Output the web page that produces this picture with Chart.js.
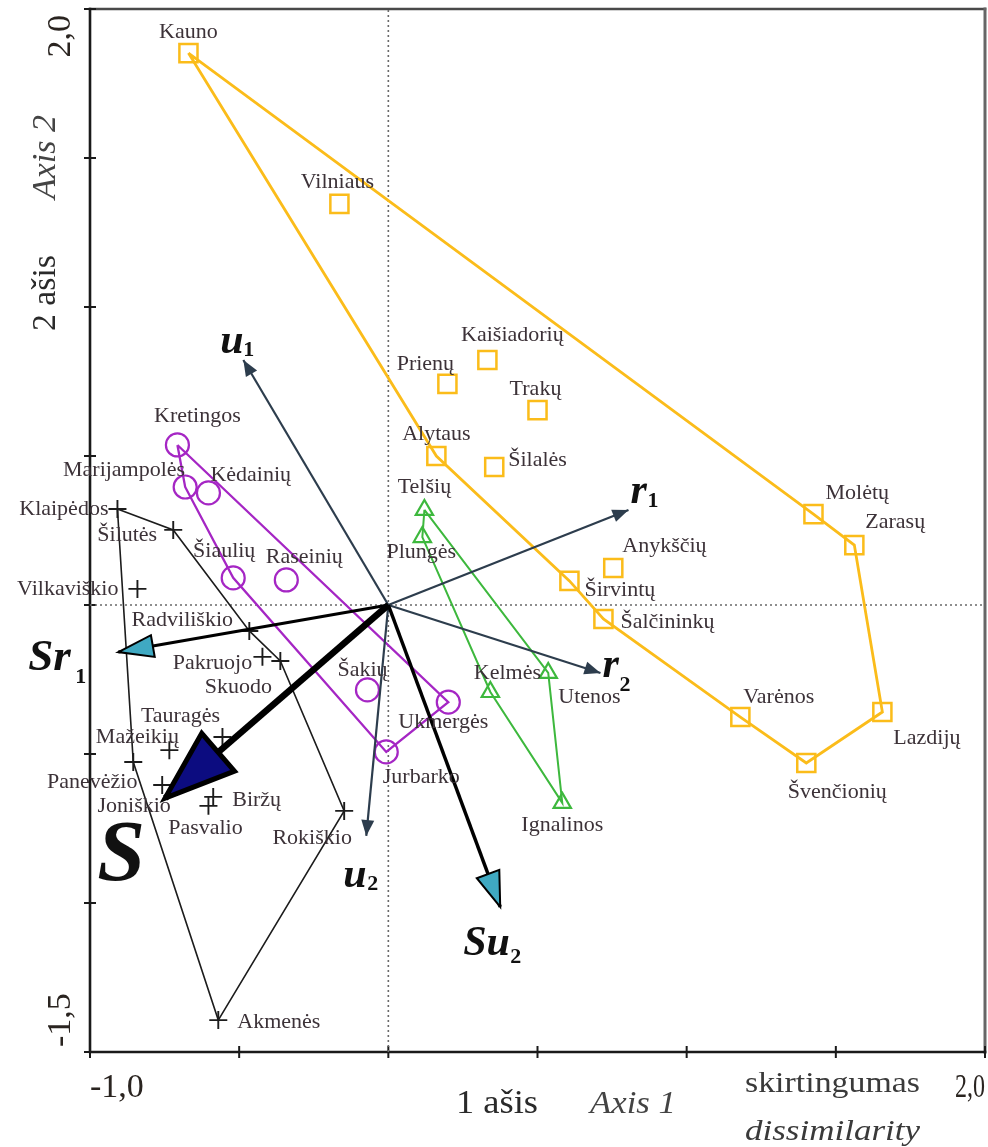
<!DOCTYPE html>
<html>
<head>
<meta charset="utf-8">
<script src="https://cdn.jsdelivr.net/npm/chart.js@4.4.1/dist/chart.umd.min.js"></script>
<style>
  html, body { margin: 0; padding: 0; background: #fff; }
  canvas { display: block; }
</style>
</head>
<body>
<canvas id="chart" width="988" height="1147"></canvas>
<script>
// Data (ordination scores)
const orangeNames = ['Kauno','Vilniaus','Kaišiadorių','Prienų','Trakų','Alytaus','Šilalės','Molėtų','Zarasų','Anykščių','Širvintų','Šalčininkų','Varėnos','Lazdijų','Švenčionių'];
const orangeX = [-0.670,-0.164, 0.332, 0.198, 0.500, 0.161, 0.355, 1.425, 1.562, 0.754, 0.607, 0.721, 1.180, 1.656, 1.401];
const orangeY = [ 1.852, 1.346, 0.822, 0.742, 0.654, 0.500, 0.463, 0.305, 0.201, 0.124, 0.081,-0.047,-0.376,-0.359,-0.530];
const orangeHull = ['Kauno','Molėtų','Zarasų','Lazdijų','Švenčionių','Varėnos','Šalčininkų','Širvintų','Alytaus','Kauno'];

const greenNames = ['Telšių','Plungės','Kelmės','Utenos','Ignalinos'];
const greenX = [0.121, 0.114, 0.342, 0.536, 0.583];
const greenY = [0.319, 0.228,-0.292,-0.228,-0.664];
const greenHull = ['Telšių','Utenos','Ignalinos','Kelmės','Plungės','Telšių'];

const purpleNames = ['Kretingos','Marijampolės','Kėdainių','Šiaulių','Raseinių','Šakių','Ukmergės','Jurbarko'];
const purpleX = [-0.707,-0.681,-0.603,-0.520,-0.342,-0.070, 0.201,-0.007];
const purpleY = [ 0.537, 0.396, 0.376, 0.091, 0.084,-0.285,-0.326,-0.493];
const purpleHull = ['Kretingos','Ukmergės','Jurbarko','Šiaulių','Marijampolės','Kretingos'];

const blackNames = ['Klaipėdos','Šilutės','Vilkaviškio','Radviliškio','Pakruojo','Skuodo','Tauragės','Mažeikių','Panevėžio','Joniškio','Biržų','Pasvalio','Rokiškio','Akmenės'];
const blackX = [-0.908,-0.721,-0.841,-0.466,-0.422,-0.362,-0.556,-0.734,-0.855,-0.758,-0.587,-0.603,-0.148,-0.570];
const blackY = [ 0.322, 0.252, 0.054,-0.087,-0.174,-0.188,-0.443,-0.487,-0.527,-0.604,-0.644,-0.674,-0.691,-1.393];
const blackHull = ['Klaipėdos','Šilutės','Radviliškio','Skuodo','Rokiškio','Akmenės','Panevėžio','Klaipėdos'];

// vectors from the origin
const arrowNames = ['u1','r1','r2','u2','Sr1','S','Su2'];
const arrowX = [-0.486, 0.805, 0.711,-0.074,-0.905,-0.748, 0.375];
const arrowY = [ 0.822, 0.319,-0.228,-0.775,-0.158,-0.648,-1.013];
const arrowMain = ['u','r','r','u','Sr','S','Su'];
const arrowSub  = ['1','1','2','2','1','','2'];

const xTicks = [-1, -0.5, 0, 0.5, 1, 1.5, 2];
const yTicks = [-1.5, -1, -0.5, 0, 0.5, 1, 1.5, 2];
const xTickText = ['-1,0', '2,0'];
const yTickText = ['-1,5', '2,0'];

// Styles
const SERIF = '"Liberation Serif", "Times New Roman", serif';
const LABEL_COLOR = '#3c3238';
const SLATE = '#2d3d4d';

const groupStyles = [
  { color: '#FBBC1A', style: 'rect',     radius: 12.8, width: 2.5, hullWidth: 2.8 },
  { color: '#3DB83D', style: 'triangle', radius: 10,   width: 2.2, hullWidth: 2 },
  { color: '#A526C4', style: 'circle',   radius: 11.5, width: 2.2, hullWidth: 2.3 },
  { color: '#1c1c1c', style: 'cross',    radius: 9,    width: 1.9, hullWidth: 1.6 }
];

const arrowStyles = [
  { color: SLATE, width: 2.2, len: 16, half: 6.5, fill: SLATE,   stroke: null, sw: 0 },
  { color: SLATE, width: 2.2, len: 16, half: 6.5, fill: SLATE,   stroke: null, sw: 0 },
  { color: SLATE, width: 2.2, len: 16, half: 6.5, fill: SLATE,   stroke: null, sw: 0 },
  { color: SLATE, width: 2.2, len: 16, half: 6.5, fill: SLATE,   stroke: null, sw: 0 },
  { color: '#000', width: 3,  len: 35, half: 11, fill: '#3FA9C2', stroke: '#000', sw: 2 },
  { color: '#000', width: 6.5,len: 70, half: 25, fill: '#0C0C80', stroke: '#000', sw: 5 },
  { color: '#000', width: 3.5,len: 35, half: 12, fill: '#3FA9C2', stroke: '#000', sw: 2 }
];

// label placement: [dx, dy, align] in pixels from the marker
const labelOffsets = {
  'Kauno': [0,-21,'center'], 'Vilniaus': [-2,-22,'center'], 'Kaišiadorių': [25,-25,'center'],
  'Prienų': [-22,-20,'center'], 'Trakų': [-2,-21,'center'], 'Alytaus': [0,-22,'center'],
  'Šilalės': [14,-7,'left'], 'Molėtų': [12,-21,'left'], 'Zarasų': [11,-23,'left'],
  'Anykščių': [9,-22,'left'], 'Širvintų': [15,9,'left'], 'Šalčininkų': [17,3,'left'],
  'Varėnos': [3,-20,'left'], 'Lazdijų': [11,26,'left'], 'Švenčionių': [31,29,'center'],
  'Telšių': [0,-23,'center'], 'Plungės': [-1,15,'center'], 'Kelmės': [17,-19,'center'],
  'Utenos': [10,24,'left'], 'Ignalinos': [0,22,'center'],
  'Kretingos': [20,-29,'center'], 'Marijampolės': [0,-17,'right'], 'Kėdainių': [2,-18,'left'],
  'Šiaulių': [-9,-27,'center'], 'Raseinių': [18,-23,'center'], 'Šakių': [-5,-20,'center'],
  'Ukmergės': [-5,20,'center'], 'Jurbarko': [35,25,'center'],
  'Klaipėdos': [-9,0,'right'], 'Šilutės': [-46,5,'center'], 'Vilkaviškio': [-19,0,'right'],
  'Radviliškio': [-67,-11,'center'], 'Pakruojo': [-50,6,'center'], 'Skuodo': [-42,26,'center'],
  'Tauragės': [-42,-21,'center'], 'Mažeikių': [-32,-13,'center'], 'Panevėžio': [-41,20,'center'],
  'Joniškio': [-28,21,'center'], 'Biržų': [19,3,'left'], 'Pasvalio': [-3,22,'center'],
  'Rokiškio': [-32,27,'center'], 'Akmenės': [19,2,'left']
};

// arrow labels: main text offset, subscript offset (from tip), main font size
const arrowLabelPos = [
  { main: [-23,-7],  sub: [0,-4],   size: 42 },
  { main: [2,-7],    sub: [19,-3],  size: 42 },
  { main: [2,4],     sub: [19,18],  size: 42 },
  { main: [-23,51],  sub: [1,54],   size: 42 },
  { main: [-90,18],  sub: [-43,31], size: 45 },
  { main: [-68,82],  sub: [0,0],    size: 86 },
  { main: [-37,48],  sub: [10,56],  size: 42 }
];

// Helpers
function pts(xs, ys) { return xs.map((x, i) => ({ x: x, y: ys[i] })); }
function byName(names, xs, ys, list) {
  return list.map(n => { const i = names.indexOf(n); return { x: xs[i], y: ys[i] }; });
}

const groups = [
  { names: orangeNames, xs: orangeX, ys: orangeY, hull: orangeHull },
  { names: greenNames,  xs: greenX,  ys: greenY,  hull: greenHull },
  { names: purpleNames, xs: purpleX, ys: purpleY, hull: purpleHull },
  { names: blackNames,  xs: blackX,  ys: blackY,  hull: blackHull }
];

const datasets = [];

// zero lines (dotted)
datasets.push({ type: 'line', data: [{x: 0, y: -1.5}, {x: 0, y: 2}], borderColor: '#6a6a6a', borderWidth: 1.6, borderDash: [2, 3], pointRadius: 0, showLine: true, order: 6 });
datasets.push({ type: 'line', data: [{x: -1, y: 0}, {x: 2, y: 0}], borderColor: '#6a6a6a', borderWidth: 1.6, borderDash: [2, 3], pointRadius: 0, showLine: true, order: 6 });

groups.forEach((g, k) => {
  const s = groupStyles[k];
  datasets.push({
    type: 'line', data: byName(g.names, g.xs, g.ys, g.hull),
    borderColor: s.color, borderWidth: s.hullWidth, pointRadius: 0, showLine: true,
    tension: 0, fill: false, order: 5
  });
  datasets.push({
    type: 'scatter', data: pts(g.xs, g.ys),
    pointStyle: s.style, pointRadius: s.radius, pointBorderWidth: s.width,
    borderColor: s.color, backgroundColor: 'rgba(0,0,0,0)', pointBackgroundColor: 'rgba(0,0,0,0)',
    pointBorderColor: s.color, showLine: false, order: 4
  });
});

arrowNames.forEach((n, i) => {
  const s = arrowStyles[i];
  datasets.push({
    type: 'line', data: [{x: 0, y: 0}, {x: arrowX[i], y: arrowY[i]}],
    borderColor: s.color, borderWidth: s.width, pointRadius: 0, showLine: true,
    borderCapStyle: 'butt', order: 2 - (i >= 4 ? 1 : 0)
  });
});

function fitText(ctx, text, x, y, font, align, width, rot) {
  ctx.save();
  ctx.translate(x, y);
  if (rot) ctx.rotate(rot);
  ctx.font = font;
  ctx.textAlign = align;
  ctx.textBaseline = 'alphabetic';
  if (width) {
    const w = ctx.measureText(text).width;
    ctx.scale(width / w, 1);
  }
  ctx.fillText(text, 0, 0);
  ctx.restore();
}

const overlay = {
  id: 'overlay',
  beforeDatasetsDraw(chart) {
    const ctx = chart.ctx;
    const a = chart.chartArea;
    const sx = chart.scales.x, sy = chart.scales.y;
    ctx.save();
    // frame
    ctx.lineCap = 'square';
    ctx.strokeStyle = '#4a4a4a'; ctx.lineWidth = 2.5;
    ctx.beginPath(); ctx.moveTo(a.left, a.top); ctx.lineTo(a.right, a.top); ctx.stroke();
    ctx.strokeStyle = '#666'; ctx.lineWidth = 3;
    ctx.beginPath(); ctx.moveTo(a.right, a.top); ctx.lineTo(a.right, a.bottom); ctx.stroke();
    ctx.strokeStyle = '#1a1a1a'; ctx.lineWidth = 2.6;
    ctx.beginPath(); ctx.moveTo(a.left, a.top); ctx.lineTo(a.left, a.bottom); ctx.lineTo(a.right, a.bottom); ctx.stroke();
    // tick marks crossing the axes
    ctx.lineWidth = 2; ctx.lineCap = 'butt';
    xTicks.forEach(v => {
      const px = sx.getPixelForValue(v);
      ctx.beginPath(); ctx.moveTo(px, a.bottom - 6); ctx.lineTo(px, a.bottom + 6); ctx.stroke();
    });
    yTicks.forEach(v => {
      const py = sy.getPixelForValue(v);
      ctx.beginPath(); ctx.moveTo(a.left - 6, py); ctx.lineTo(a.left + 6, py); ctx.stroke();
    });
    // tick labels (end values only)
    ctx.fillStyle = '#2a2420';
    const tf = '34px ' + SERIF;
    fitText(ctx, xTickText[0], sx.getPixelForValue(xTicks[0]), a.bottom + 45, tf, 'left', 0, 0);
    fitText(ctx, xTickText[1], sx.getPixelForValue(xTicks[xTicks.length - 1]), a.bottom + 45, tf, 'right', 30, 0);
    fitText(ctx, yTickText[0], 70, sy.getPixelForValue(yTicks[0]) - 5, tf, 'left', 0, -Math.PI / 2);
    fitText(ctx, yTickText[1], 70, sy.getPixelForValue(yTicks[yTicks.length - 1]) + 6, tf, 'right', 0, -Math.PI / 2);
    // axis titles
    ctx.fillStyle = '#2a2a2a';
    fitText(ctx, '1 ašis', 456, 1113, '34px ' + SERIF, 'left', 82, 0);
    ctx.fillStyle = '#444';
    fitText(ctx, 'Axis 1', 590, 1113, 'italic 32px ' + SERIF, 'left', 86, 0);
    ctx.fillStyle = '#3a3a3a';
    fitText(ctx, 'skirtingumas', 745, 1092, '30px ' + SERIF, 'left', 175, 0);
    fitText(ctx, 'dissimilarity', 745, 1140, 'italic 30px ' + SERIF, 'left', 175, 0);
    ctx.fillStyle = '#444';
    fitText(ctx, 'Axis 2', 55, 157, 'italic 34px ' + SERIF, 'center', 0, -Math.PI / 2);
    ctx.fillStyle = '#2a2a2a';
    fitText(ctx, '2 ašis', 55, 293, '34px ' + SERIF, 'center', 76, -Math.PI / 2);
    ctx.restore();
  },
  afterDatasetsDraw(chart) {
    const ctx = chart.ctx;
    const sx = chart.scales.x, sy = chart.scales.y;
    const ox = sx.getPixelForValue(0), oy = sy.getPixelForValue(0);
    ctx.save();
    // arrow heads
    arrowNames.forEach((n, i) => {
      const s = arrowStyles[i];
      const tx = sx.getPixelForValue(arrowX[i]), ty = sy.getPixelForValue(arrowY[i]);
      const L = Math.hypot(tx - ox, ty - oy);
      const dx = (tx - ox) / L, dy = (ty - oy) / L;
      const bx = tx - dx * s.len, by = ty - dy * s.len;
      ctx.beginPath();
      ctx.moveTo(tx, ty);
      ctx.lineTo(bx - dy * s.half, by + dx * s.half);
      ctx.lineTo(bx + dy * s.half, by - dx * s.half);
      ctx.closePath();
      ctx.fillStyle = s.fill; ctx.fill();
      if (s.stroke) { ctx.lineJoin = 'miter'; ctx.strokeStyle = s.stroke; ctx.lineWidth = s.sw; ctx.stroke(); }
    });
    // point labels
    ctx.font = '22px ' + SERIF;
    ctx.fillStyle = LABEL_COLOR;
    ctx.textBaseline = 'middle';
    groups.forEach(g => {
      g.names.forEach((n, i) => {
        const o = labelOffsets[n];
        ctx.textAlign = o[2];
        ctx.fillText(n, sx.getPixelForValue(g.xs[i]) + o[0], sy.getPixelForValue(g.ys[i]) + o[1]);
      });
    });
    // arrow labels
    ctx.fillStyle = '#111';
    ctx.textBaseline = 'alphabetic';
    ctx.textAlign = 'left';
    arrowNames.forEach((n, i) => {
      const p = arrowLabelPos[i];
      const tx = sx.getPixelForValue(arrowX[i]), ty = sy.getPixelForValue(arrowY[i]);
      ctx.font = 'bold italic ' + p.size + 'px ' + SERIF;
      ctx.fillText(arrowMain[i], tx + p.main[0], ty + p.main[1]);
      if (arrowSub[i]) {
        ctx.font = 'bold 22px ' + SERIF;
        ctx.fillText(arrowSub[i], tx + p.sub[0], ty + p.sub[1]);
      }
    });
    ctx.restore();
  }
};

new Chart(document.getElementById('chart'), {
  type: 'scatter',
  data: { datasets: datasets },
  options: {
    responsive: false,
    devicePixelRatio: 1,
    animation: false,
    layout: { autoPadding: false, padding: { left: 90, top: 9, right: 3, bottom: 95 } },
    scales: {
      x: { type: 'linear', min: -1, max: 2, display: false },
      y: { type: 'linear', min: -1.5, max: 2, display: false }
    },
    plugins: { legend: { display: false }, tooltip: { enabled: false } }
  },
  plugins: [overlay]
});
</script>
</body>
</html>
